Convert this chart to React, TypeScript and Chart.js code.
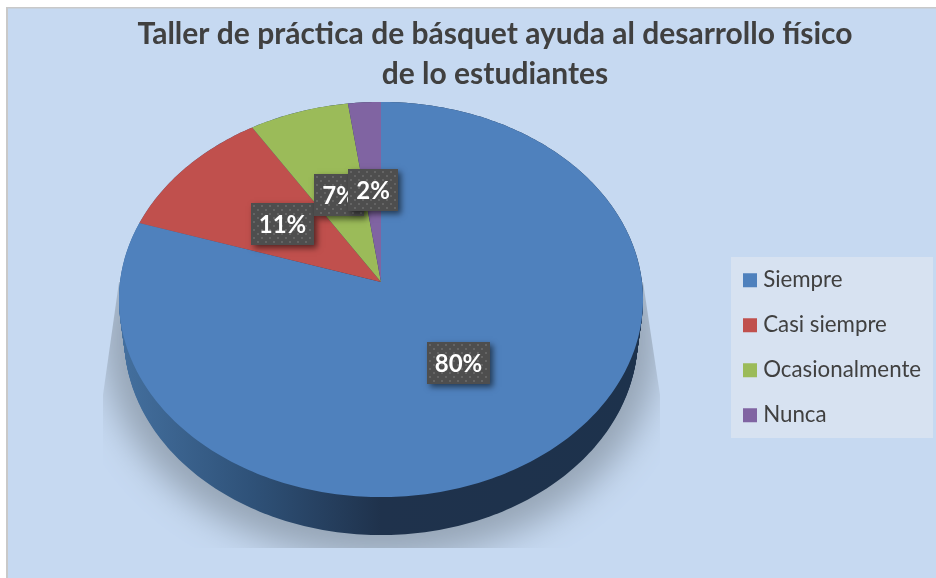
import React, { useEffect, useRef } from "react";
import { Chart, registerables } from "chart.js";

Chart.register(...registerables);

const categories = ["Siempre", "Casi siempre", "Ocasionalmente", "Nunca"];
const percentages = [80, 11.1, 6.7, 2.2];
const sliceColors = ["#4f81bd", "#c0504d", "#9bbb59", "#8064a2"];
const titleLines = [
  "Taller de práctica de básquet ayuda al desarrollo físico",
  "de lo estudiantes",
];

const FONT = "Lato, 'Open Sans', sans-serif";
const APEX = { x: 381, y: 282 };
const A = 261;
const B = 196;
const K = -0.0886;
const DEPTH = 38;
const BOTTOM_SCALE = 0.98;

function project(theta: number, r = 1) {
  const u = r * Math.sin(theta);
  const v = -r * Math.cos(theta);
  const d = 1 + K * v;
  return { x: APEX.x + (A * u) / d, y: APEX.y + (B * v) / d };
}

function ellipsePath(ctx: CanvasRenderingContext2D, dy: number, sx: number) {
  ctx.beginPath();
  for (let i = 0; i <= 360; i++) {
    const p = project((i * Math.PI) / 180);
    const x = APEX.x + (p.x - APEX.x) * sx;
    if (i === 0) ctx.moveTo(x, p.y + dy);
    else ctx.lineTo(x, p.y + dy);
  }
  ctx.closePath();
}

const piePlugin = {
  id: "perspectivePie",
  beforeDraw(chart: any) {
    const { ctx, width, height } = chart;
    ctx.save();
    ctx.fillStyle = "#ffffff";
    ctx.fillRect(0, 0, width, height);
    ctx.fillStyle = "#c9c9c9";
    ctx.fillRect(6, 7, width - 6, height - 7);
    ctx.fillStyle = "#c6d9f1";
    ctx.fillRect(8, 8.5, width - 8, height - 8);
    ctx.fillStyle = "#d7e2f1";
    ctx.fillRect(731, 257, 202, 181);
    ctx.restore();
  },
  afterLayout(chart: any) {
    const legend = chart.legend;
    const pad = legend.options.labels.padding;
    const w = legend.width;
    const h = legend.height;
    legend.left = 748 - pad;
    legend.right = legend.left + w;
    legend.top = 269 - pad;
    legend.bottom = legend.top + h;
    const title = chart.titleBlock;
    title.left = 54;
    title.right = 936;
    title.top = 14;
    title.bottom = title.top + title.height;
  },
  beforeDatasetDraw(chart: any, args: any) {
    const { ctx } = chart;
    const arcs = args.meta.data;

    // floor shadow, cut off by its slanted frame as in the source
    ctx.save();
    ctx.beginPath();
    ctx.moveTo(119, 282);
    ctx.lineTo(103, 395);
    ctx.lineTo(103, 548);
    ctx.lineTo(660, 548);
    ctx.lineTo(660, 395);
    ctx.lineTo(643, 282);
    ctx.closePath();
    ctx.clip();
    ctx.shadowColor = "rgb(150,165,182)";
    ctx.shadowBlur = 34;
    ctx.shadowOffsetX = 3000;
    ctx.fillStyle = "#000";
    ctx.beginPath();
    ctx.ellipse(APEX.x - 3000, 340, 278, 218, 0, 0, Math.PI * 2);
    ctx.fill();
    ctx.restore();

    // side wall
    const grad = ctx.createLinearGradient(119, 0, 643, 0);
    grad.addColorStop(0, "#44709f");
    grad.addColorStop(0.25, "#2f5279");
    grad.addColorStop(0.5, "#1f324c");
    grad.addColorStop(1, "#1d324c");
    ctx.save();
    ctx.fillStyle = grad;
    for (let dy = DEPTH; dy >= 0; dy--) {
      ellipsePath(ctx, dy, 1 - ((1 - BOTTOM_SCALE) * dy) / DEPTH);
      ctx.fill();
    }
    ctx.restore();

    // slices, from the angles the library computed
    arcs.forEach((arc: any) => {
      const t0 = arc.startAngle + Math.PI / 2;
      const t1 = arc.endAngle + Math.PI / 2;
      ctx.beginPath();
      ctx.moveTo(APEX.x, APEX.y);
      const steps = Math.max(2, Math.ceil(((t1 - t0) * 180) / Math.PI));
      for (let i = 0; i <= steps; i++) {
        const p = project(t0 + ((t1 - t0) * i) / steps);
        ctx.lineTo(p.x, p.y);
      }
      ctx.closePath();
      ctx.fillStyle = arc.options.backgroundColor;
      ctx.fill();
    });
    return false;
  },
  afterDatasetsDraw(chart: any) {
    const { ctx } = chart;
    const arcs = chart.getDatasetMeta(0).data;
    const values = chart.data.datasets[0].data;
    ctx.save();
    ctx.font = `bold 24px ${FONT}`;
    arcs.forEach((arc: any, i: number) => {
      const mid = (arc.startAngle + arc.endAngle) / 2 + Math.PI / 2;
      const c = project(mid, 0.49);
      const text = `${Math.round(values[i])}%`;
      const w = text.length > 2 ? 63 : 50;
      const h = 42;
      const x = Math.round(c.x - w / 2);
      const y = Math.round(c.y - h / 2);
      ctx.save();
      ctx.shadowColor = "rgba(0,0,0,0.55)";
      ctx.shadowBlur = 6;
      ctx.shadowOffsetX = 3;
      ctx.shadowOffsetY = 3;
      ctx.fillStyle = "#4e4e4e";
      ctx.fillRect(x, y, w, h);
      ctx.restore();
      ctx.fillStyle = "rgba(255,255,255,0.13)";
      for (let row = 0; row * 4 + 2 < h; row++) {
        for (let col = row % 2 ? 6 : 2; col + 2 < w; col += 8) {
          ctx.fillRect(x + col, y + row * 4 + 2, 2, 2);
        }
      }
      ctx.fillStyle = "#ffffff";
      ctx.textAlign = "center";
      ctx.textBaseline = "middle";
      ctx.save();
      ctx.beginPath();
      ctx.rect(x, y, w, h);
      ctx.clip();
      ctx.fillText(text, x + w / 2, y + h / 2 + 1);
      ctx.restore();
    });
    ctx.restore();
  },
};

export default function App() {
  const ref = useRef<HTMLCanvasElement>(null);
  useEffect(() => {
    if (!ref.current) return;
    const chart = new Chart(ref.current, {
      type: "pie",
      data: {
        labels: categories,
        datasets: [{ data: percentages, backgroundColor: sliceColors, borderWidth: 0 }],
      },
      options: {
        responsive: false,
        animation: false,
        plugins: {
          title: {
            display: true,
            text: titleLines,
            color: "#404040",
            font: { family: FONT, weight: "bold", size: 30, lineHeight: 40 / 30 },
            padding: 0,
          },
          legend: {
            position: "right",
            align: "start",
            labels: {
              font: { family: FONT, size: 22.3 },
              color: "#404040",
              boxWidth: 4,
              boxHeight: 4,
              padding: 22.7,
              generateLabels: (c: any) =>
                c.data.labels.map((text: string, i: number) => ({
                  text,
                  fillStyle: sliceColors[i],
                  strokeStyle: sliceColors[i],
                  lineWidth: 10,
                  index: i,
                  fontColor: "#404040",
                })),
            },
          },
          tooltip: { enabled: false },
        },
      },
      plugins: [piePlugin],
    } as any);
    return () => chart.destroy();
  }, []);
  return (
    <div style={{ position: "fixed", inset: 0, background: "#fff" }}>
      <canvas ref={ref} width={936} height={578} style={{ display: "block" }} />
    </div>
  );
}
